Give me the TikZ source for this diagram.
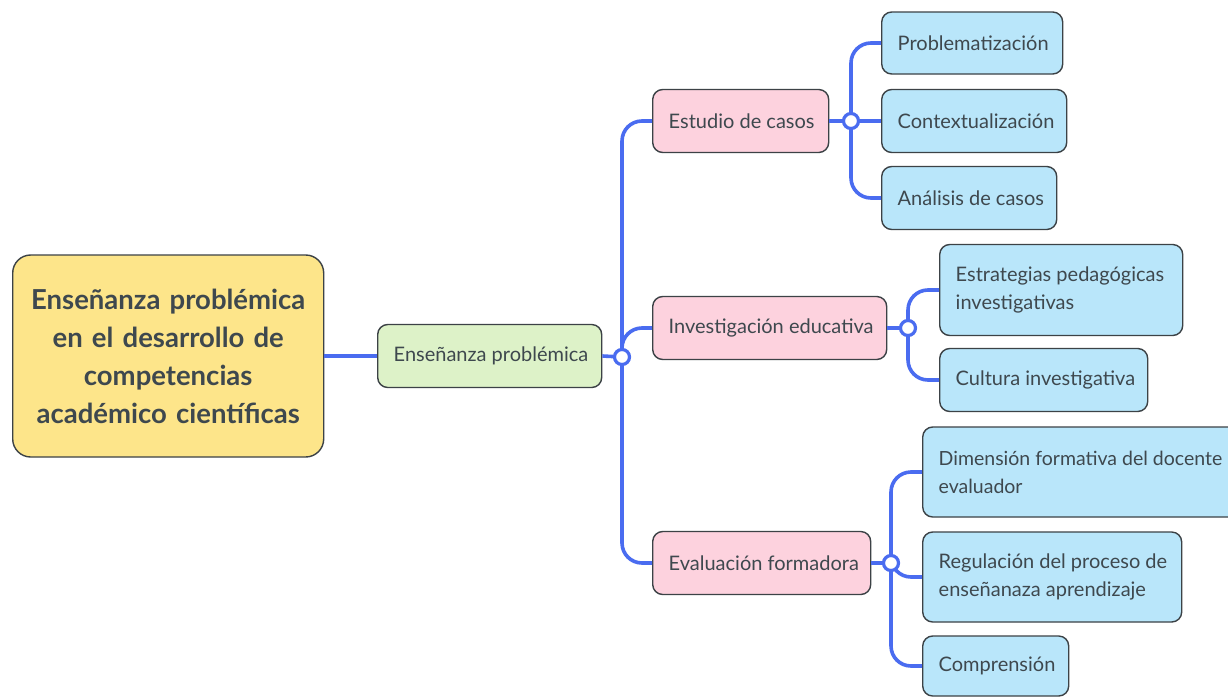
\documentclass[tikz,border=0pt]{standalone}
\usepackage{fontspec}
\setmainfont{Lato}
\definecolor{conncol}{RGB}{74,108,240}
\definecolor{bordercol}{RGB}{60,66,70}
\definecolor{txtcol}{RGB}{62,72,78}
\definecolor{yellowfill}{RGB}{253,229,138}
\definecolor{greenfill}{RGB}{221,242,200}
\definecolor{pinkfill}{RGB}{253,210,222}
\definecolor{bluefill}{RGB}{185,230,250}
\tikzset{
  base/.style={draw=bordercol, line width=1.4pt, rounded corners=10pt, text=txtcol,
    anchor=west, inner xsep=16pt, inner ysep=0pt, align=flush left,
    font=\fontsize{20}{28}\selectfont},
  rootbox/.style={draw=bordercol, line width=1.4pt, rounded corners=18pt, fill=yellowfill,
    text=txtcol, anchor=west, inner sep=0pt, align=center,
    font=\fontsize{27.5}{38}\selectfont\bfseries},
  greenbox/.style={base, fill=greenfill},
  pinkbox/.style={base, fill=pinkfill},
  bluebox/.style={base, fill=bluefill},
  conn/.style={draw=conncol, line width=3.6pt, rounded corners=20pt},
  junc/.style={circle, draw=conncol, line width=3.2pt, fill=white, minimum size=15pt, inner sep=0pt}
}
\newcommand{\bx}[7]{\node[#1, text width=#5pt-32pt, minimum height=#6pt] (#2) at (#3,#4) {#7};}
\begin{document}
\begin{tikzpicture}[x=1pt,y=-1pt]
\clip (0,0) rectangle (1228,696);
\fill[white] (0,0) rectangle (1228,696);
% root
\node[rootbox, text width=311pt, minimum height=202pt] (root) at (12,356)
  {Enseñanza problémica\\en el desarrollo de\\competencias\\académico científicas};
\bx{greenbox}{ens}{377}{356}{224}{63}{\mbox{Enseñanza problémica}}
\bx{pinkbox}{est}{652}{121}{176}{63}{\mbox{Estudio de casos}}
\bx{pinkbox}{inv}{652}{328}{234}{63}{\mbox{Investigación educativa}}
\bx{pinkbox}{eva}{652}{563}{218}{63}{\mbox{Evaluación formadora}}
\bx{bluebox}{pro}{881}{43}{181}{62}{\mbox{Problematización}}
\bx{bluebox}{con}{881}{121}{185}{63}{\mbox{Contextualización}}
\bx{bluebox}{ana}{881}{198}{175}{63}{\mbox{Análisis de casos}}
\bx{bluebox}{estr}{939}{290}{243}{91}{\mbox{Estrategias pedagógicas}\\\mbox{investigativas}}
\bx{bluebox}{cul}{939}{380}{208}{63}{\mbox{Cultura investigativa}}
\bx{bluebox, font=\fontsize{19.5}{28}\selectfont}{dim}{922}{472}{330}{90}{\mbox{Dimensión formativa del docente}\\\mbox{evaluador}}
\bx{bluebox}{reg}{922}{577}{259}{90}{\mbox{Regulación del proceso de}\\\mbox{enseñanaza aprendizaje}}
\bx{bluebox}{com}{922}{666}{146}{60}{\mbox{Comprensión}}
% junctions
\coordinate (j0) at (622,357);
\coordinate (j1) at (851,121);
\coordinate (j2) at (908,328);
\coordinate (j3) at (891,563);
% connectors
\draw[conn] (root.east) -- (ens.west);
\draw[conn] (ens.east) -- (j0);
\draw[conn] (j0) |- (est.west);
\draw[conn] (j0) |- (inv.west);
\draw[conn] (j0) |- (eva.west);
\draw[conn] (est.east) -- (j1);
\draw[conn] (j1) |- (pro.west);
\draw[conn] (j1) -- (con.west);
\draw[conn] (j1) |- (ana.west);
\draw[conn] (inv.east |- j2) -- (j2);
\draw[conn] (j2) |- (estr.west);
\draw[conn] (j2) |- (cul.west);
\draw[conn] (eva.east) -- (j3);
\draw[conn] (j3) |- (dim.west);
\draw[conn] (j3) |- (reg.west);
\draw[conn] (j3) |- (com.west);
\node[junc] (J0) at (j0) {};
\node[junc] (J1) at (j1) {};
\node[junc] (J2) at (j2) {};
\node[junc] (J3) at (j3) {};
\end{tikzpicture}
\end{document}
